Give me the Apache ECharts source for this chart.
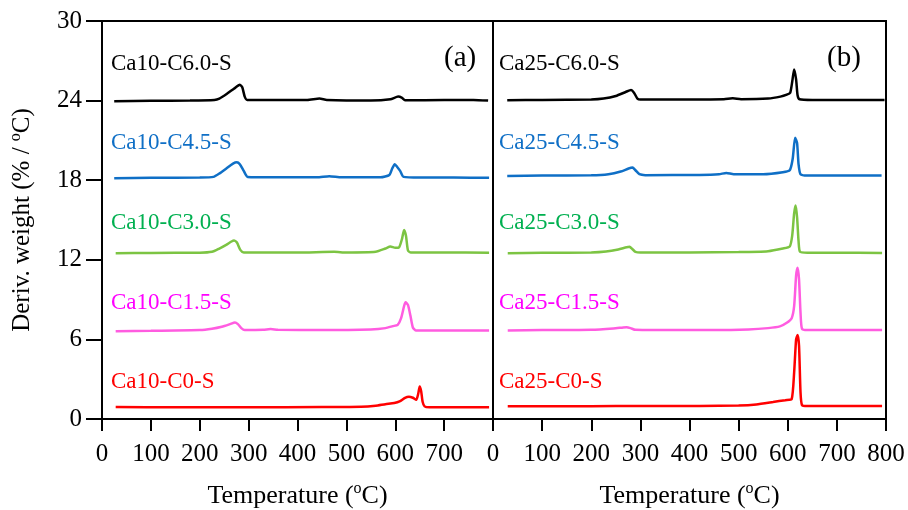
<!DOCTYPE html>
<html><head><meta charset="utf-8">
<script src="https://cdn.jsdelivr.net/npm/echarts@6/dist/echarts.min.js"></script>
<style>html,body{margin:0;padding:0;background:#fff}#c{width:908px;height:510px}</style>
</head><body><div id="c"></div>
<script>
// ---- data (Temperature °C, Deriv. weight %/°C) ----
var xTicks = [0,100,200,300,400,500,600,700,800];
var yTicks = [0,6,12,18,24,30];

var ca10_C60 = [[25,23.95],[100,23.98],[180,24.0],[230,24.05],[240,24.15],[255,24.5],[270,24.9],[282,25.2],[287,25.0],[292,24.3],[297,24.05],[350,24.05],[420,24.05],[445,24.15],[460,24.05],[550,24.0],[590,24.1],[606,24.3],[614,24.2],[620,24.02],[700,24.05],[760,24.05],[790,24.0]];
var ca10_C45 = [[25,18.15],[100,18.18],[200,18.2],[228,18.25],[240,18.5],[255,18.9],[268,19.25],[276,19.35],[282,19.2],[290,18.7],[298,18.25],[350,18.22],[440,18.22],[465,18.3],[490,18.22],[570,18.22],[588,18.4],[594,18.9],[599,19.2],[604,19.0],[610,18.7],[617,18.25],[650,18.2],[720,18.2],[792,18.18]];
var ca10_C30 = [[28,12.5],[100,12.52],[200,12.53],[225,12.6],[240,12.85],[255,13.15],[265,13.38],[270,13.45],[276,13.3],[283,12.75],[290,12.55],[400,12.55],[475,12.6],[500,12.55],[560,12.6],[580,12.85],[590,13.0],[600,12.9],[608,12.95],[614,13.6],[618,14.25],[622,13.8],[626,12.7],[632,12.55],[700,12.55],[792,12.53]];
var ca10_C15 = [[28,6.62],[100,6.65],[200,6.7],[225,6.8],[245,6.95],[262,7.15],[272,7.28],[278,7.15],[285,6.85],[292,6.7],[330,6.72],[345,6.78],[360,6.72],[450,6.7],[550,6.75],[580,6.85],[595,7.0],[605,7.1],[612,7.6],[618,8.5],[621,8.8],[626,8.6],[631,7.8],[636,6.9],[642,6.68],[700,6.68],[792,6.68]];
var ca10_C0 = [[28,0.9],[150,0.88],[300,0.88],[450,0.9],[530,0.92],[560,1.0],[580,1.12],[598,1.2],[610,1.35],[620,1.6],[628,1.68],[636,1.6],[643,1.45],[647,1.9],[650,2.45],[653,2.1],[656,1.3],[660,0.95],[670,0.88],[792,0.88]];

var ca25_C60 = [[29,24.02],[100,24.05],[200,24.08],[225,24.15],[250,24.35],[270,24.65],[281,24.8],[287,24.6],[294,24.15],[300,24.08],[400,24.08],[470,24.1],[488,24.17],[505,24.1],[560,24.15],[585,24.3],[598,24.45],[605,24.6],[609,25.4],[613,26.35],[617,25.6],[620,24.4],[624,24.1],[650,24.05],[700,24.05],[797,24.05]];
var ca25_C45 = [[29,18.32],[100,18.35],[200,18.37],[235,18.45],[260,18.65],[276,18.88],[284,18.95],[290,18.75],[298,18.45],[310,18.38],[420,18.4],[460,18.45],[475,18.55],[490,18.45],[550,18.45],[590,18.6],[604,18.75],[610,19.6],[615,21.2],[619,20.8],[622,19.2],[626,18.45],[640,18.35],[700,18.35],[791,18.35]];
var ca25_C30 = [[30,12.5],[100,12.53],[200,12.55],[230,12.62],[255,12.78],[272,12.95],[278,12.98],[284,12.8],[290,12.6],[300,12.55],[400,12.55],[500,12.58],[560,12.65],[590,12.85],[604,13.0],[609,13.8],[613,15.5],[616,16.1],[619,15.2],[622,13.4],[625,12.6],[640,12.53],[700,12.53],[792,12.52]];
var ca25_C15 = [[30,6.68],[100,6.7],[200,6.72],[245,6.82],[265,6.9],[272,6.92],[280,6.85],[290,6.72],[350,6.7],[450,6.7],[520,6.75],[560,6.85],[584,6.98],[598,7.25],[608,7.6],[613,8.5],[617,10.8],[620,11.4],[623,10.5],[626,8.0],[629,6.8],[640,6.7],[700,6.7],[792,6.7]];
var ca25_C0 = [[30,0.97],[100,0.97],[200,0.97],[300,0.98],[420,0.98],[500,1.02],[536,1.1],[570,1.28],[595,1.42],[608,1.5],[613,3.5],[617,6.0],[620,6.33],[623,5.5],[626,2.0],[629,1.05],[640,0.98],[700,0.98],[792,0.98]];

var namesA = ['Ca10-C6.0-S','Ca10-C4.5-S','Ca10-C3.0-S','Ca10-C1.5-S','Ca10-C0-S'];
var namesB = ['Ca25-C6.0-S','Ca25-C4.5-S','Ca25-C3.0-S','Ca25-C1.5-S','Ca25-C0-S'];
var panelLabels = ['(a)','(b)'];

// ---- styles ----
var FONT = '"Liberation Serif","Times New Roman",serif';
var lineColors = ['#000000','#0f6fc6','#7cc443','#ff5ce0','#ff0000'];
var textColors = ['#000000','#0f6fc6','#00b050','#ff00ff','#ff0000'];
var labelY = [64,143,223,303,382];

var chart = echarts.init(document.getElementById('c'), null, {renderer:'canvas'});

function xAxisCfg(gi, hideMax){
  return {
    type:'value', gridIndex:gi, min:0, max:800, interval:100,
    name:'{n|Temperature (}{s|o}{n|C)}', nameLocation:'middle', nameGap:62,
    nameTextStyle:{rich:{n:{fontFamily:FONT,fontSize:26,color:'#000',lineHeight:30},s:{fontFamily:FONT,fontSize:16,color:'#000',verticalAlign:'top',lineHeight:16}}},
    axisLine:{show:true,lineStyle:{color:'#000',width:2}},
    axisTick:{show:true,inside:false,length:12,lineStyle:{color:'#000',width:2}},
    axisLabel:{fontFamily:FONT,fontSize:25,color:'#000',margin:23,showMaxLabel:!hideMax,
      formatter:function(v){ return (hideMax && v===800) ? '' : String(v); }},
    splitLine:{show:false}
  };
}
function yAxisCfg(gi, showLabels){
  return {
    type:'value', gridIndex:gi, min:0, max:30, interval:6,
    name: showLabels ? '{n|Deriv. weight (% / }{s|o}{n|C)}' : '',
    nameLocation:'middle', nameGap:66, nameRotate:90,
    nameTextStyle:{rich:{n:{fontFamily:FONT,fontSize:25,color:'#000',lineHeight:28},s:{fontFamily:FONT,fontSize:16,color:'#000',verticalAlign:'top',lineHeight:16}}},
    axisLine:{show:true,lineStyle:{color:'#000',width:2}},
    axisTick:{show:showLabels,inside:false,length:16,lineStyle:{color:'#000',width:2}},
    axisLabel:{show:showLabels,fontFamily:FONT,fontSize:25,color:'#000',margin:20,padding:[7,0,0,0]},
    splitLine:{show:false}
  };
}

var dataA = [ca10_C60,ca10_C45,ca10_C30,ca10_C15,ca10_C0];
var dataB = [ca25_C60,ca25_C45,ca25_C30,ca25_C15,ca25_C0];
var series = [];
dataA.forEach(function(d,i){
  series.push({type:'line',name:namesA[i],xAxisIndex:0,yAxisIndex:0,data:d,showSymbol:false,smooth:0.2,
    lineStyle:{color:lineColors[i],width:2.5},itemStyle:{color:lineColors[i]},z:3});
});
dataB.forEach(function(d,i){
  series.push({type:'line',name:namesB[i],xAxisIndex:1,yAxisIndex:1,data:d,showSymbol:false,smooth:0.2,
    lineStyle:{color:lineColors[i],width:2.5},itemStyle:{color:lineColors[i]},z:3});
});

var graphics = [];
namesA.forEach(function(n,i){
  graphics.push({type:'text',x:111,y:labelY[i],style:{text:n,fill:textColors[i],font:'23px '+FONT,verticalAlign:'middle'}});
});
namesB.forEach(function(n,i){
  graphics.push({type:'text',x:499,y:labelY[i],style:{text:n,fill:textColors[i],font:'23px '+FONT,verticalAlign:'middle'}});
});
graphics.push({type:'text',x:444,y:58,style:{text:panelLabels[0],fill:'#000',font:'29px '+FONT,verticalAlign:'middle'}});
graphics.push({type:'text',x:827,y:58,style:{text:panelLabels[1],fill:'#000',font:'29px '+FONT,verticalAlign:'middle'}});

chart.setOption({
  animation:false,
  backgroundColor:'#fff',
  grid:[
    {left:102,top:21,width:391,height:398,show:true,borderColor:'#000',borderWidth:2,backgroundColor:'transparent',containLabel:false,outerBoundsMode:'none'},
    {left:493,top:21,width:393,height:398,show:true,borderColor:'#000',borderWidth:2,backgroundColor:'transparent',containLabel:false,outerBoundsMode:'none'}
  ],
  xAxis:[xAxisCfg(0,true), xAxisCfg(1,false)],
  yAxis:[yAxisCfg(0,true), yAxisCfg(1,false)],
  series:series,
  graphic:graphics
});
</script></body></html>
